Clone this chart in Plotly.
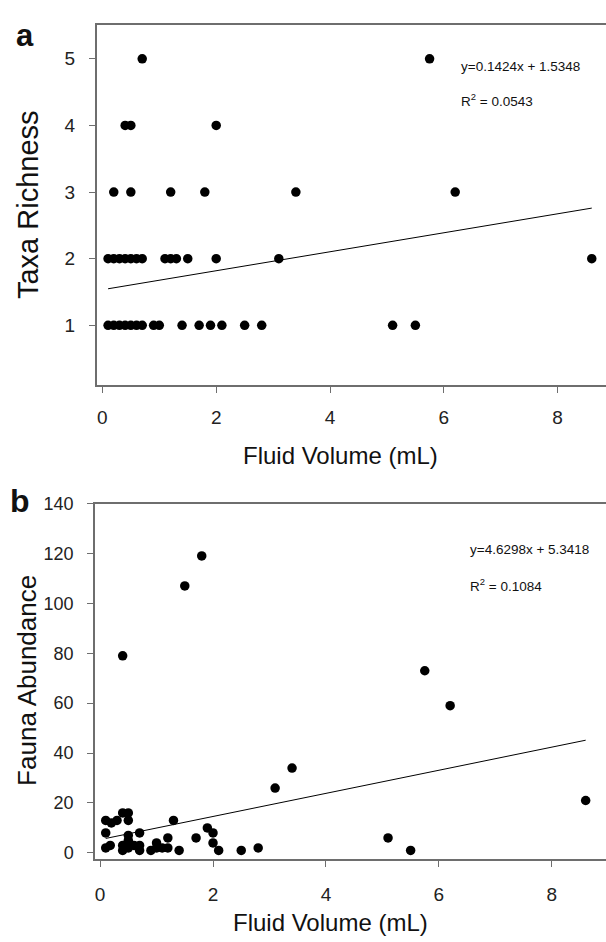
import numpy as np
import plotly.graph_objects as go

# panel a: taxa richness vs fluid volume
richness_x = [0.7, 5.75,
              0.4, 0.5, 2.0,
              0.2, 0.5, 1.2, 1.8, 3.4, 6.2,
              0.1, 0.2, 0.3, 0.4, 0.5, 0.6, 0.7, 1.1, 1.2, 1.3, 1.5, 2.0, 3.1, 8.6,
              0.1, 0.2, 0.3, 0.4, 0.5, 0.6, 0.7, 0.9, 1.0, 1.4, 1.7, 1.9, 2.1, 2.5, 2.8, 5.1, 5.5]
richness_y = [5, 5,
              4, 4, 4,
              3, 3, 3, 3, 3, 3,
              2, 2, 2, 2, 2, 2, 2, 2, 2, 2, 2, 2, 2, 2,
              1, 1, 1, 1, 1, 1, 1, 1, 1, 1, 1, 1, 1, 1, 1, 1, 1]
richness_fit = [0.1424, 1.5348]
richness_r2 = "0.0543"

# panel b: fauna abundance vs fluid volume
abundance_x = [0.1, 0.2, 0.3, 0.4, 0.5, 0.5, 0.1, 0.7, 0.5, 0.5, 0.4,
               0.1, 0.18, 0.4, 0.4, 0.5, 0.6, 0.7, 0.7, 0.9, 1.0, 1.0, 1.1, 1.2, 1.2,
               1.3, 1.4, 1.5, 1.7, 1.8, 1.9, 2.0, 2.0, 2.1, 2.5, 2.8, 3.1, 3.4,
               5.1, 5.5, 5.75, 6.2, 8.6]
abundance_y = [13, 12, 13, 16, 16, 13, 8, 8, 7, 5, 79,
               2, 3, 3, 1, 2, 3, 3, 1, 1, 2, 4, 2, 2, 6,
               13, 1, 107, 6, 119, 10, 8, 4, 1, 1, 2, 26, 34,
               6, 1, 73, 59, 21]
abundance_fit = [4.6298, 5.3418]
abundance_r2 = "0.1084"

W, H = 606, 942
font = "Liberation Sans, Arial, sans-serif"
axcol = "#6e6e6e"

fig = go.Figure()


def add_panel(xs, ys, fit, xa, ya):
    fig.add_trace(go.Scatter(x=xs, y=ys, mode="markers", xaxis=xa, yaxis=ya,
                             marker=dict(color="black", size=9.5), showlegend=False))
    lx = np.array([min(xs), max(xs)])
    fig.add_trace(go.Scatter(x=lx, y=fit[0] * lx + fit[1], mode="lines", xaxis=xa, yaxis=ya,
                             line=dict(color="black", width=1), showlegend=False))


add_panel(richness_x, richness_y, richness_fit, "x", "y")
add_panel(abundance_x, abundance_y, abundance_fit, "x2", "y2")

axis_common = dict(showline=True, linecolor=axcol, linewidth=1.5, ticks="outside",
                   tickcolor=axcol, ticklen=6, tickwidth=1.2, showgrid=False,
                   zeroline=False, tickfont=dict(family=font, size=19, color="#222"))

fig.update_layout(
    width=W, height=H, margin=dict(l=0, r=0, t=0, b=0),
    paper_bgcolor="white", plot_bgcolor="white",
    xaxis=dict(domain=[96.7 / W, 1.0], range=[-0.1, 8.85], tickvals=[0, 2, 4, 6, 8],
               mirror=True, anchor="y", ticklabelstandoff=8, **axis_common),
    yaxis=dict(domain=[1 - 381 / H, 1 - 15.7 / H], range=[0.1, 5.5], tickvals=[1, 2, 3, 4, 5],
               anchor="x", ticklabelstandoff=10, **axis_common),
    xaxis2=dict(domain=[95 / W, 1.0], range=[-0.09, 8.96], tickvals=[0, 2, 4, 6, 8],
                mirror=True, anchor="y2", ticklabelstandoff=12, **axis_common),
    yaxis2=dict(domain=[1 - 861.7 / H, 1 - 501 / H], range=[-2.4, 140],
                tickvals=[0, 20, 40, 60, 80, 100, 120, 140],
                anchor="x2", ticklabelstandoff=10, **axis_common),
)
fig.update_yaxes(tickfont=dict(size=18), selector=dict(anchor="x2"))


def ann(text, x, y, size, bold=False, angle=0, xanchor="center"):
    fig.add_annotation(text=f"<b>{text}</b>" if bold else text, x=x / W, y=1 - y / H,
                       xref="paper", yref="paper", showarrow=False, textangle=angle,
                       xanchor=xanchor, yanchor="middle",
                       font=dict(family=font, size=size, color="#111"))


ann("a", 25, 26, 31, bold=True)
ann("b", 20, 498, 32, bold=True)
ann("Taxa Richness", 28, 198, 29, angle=-90)
ann("Fauna Abundance", 27, 681, 26, angle=-90)
ann("Fluid Volume (mL)", 340, 452, 24)
ann("Fluid Volume (mL)", 330, 926, 24)
ann(f"y={richness_fit[0]}x + {richness_fit[1]}", 459, 57, 13.5, xanchor="left")
ann(f"R<sup>2</sup> = {richness_r2}", 459, 91, 13.5, xanchor="left")
ann(f"y={abundance_fit[0]}x + {abundance_fit[1]}", 468, 548, 13.5, xanchor="left")
ann(f"R<sup>2</sup> = {abundance_r2}", 468, 584, 13.5, xanchor="left")

conf = {"displayModeBar": False}

# drop the default page margin so the figure sits flush with the window
fig.write_html("out.html", config=conf,
               post_script="document.body.style.margin='0';document.body.style.overflow='hidden';")
